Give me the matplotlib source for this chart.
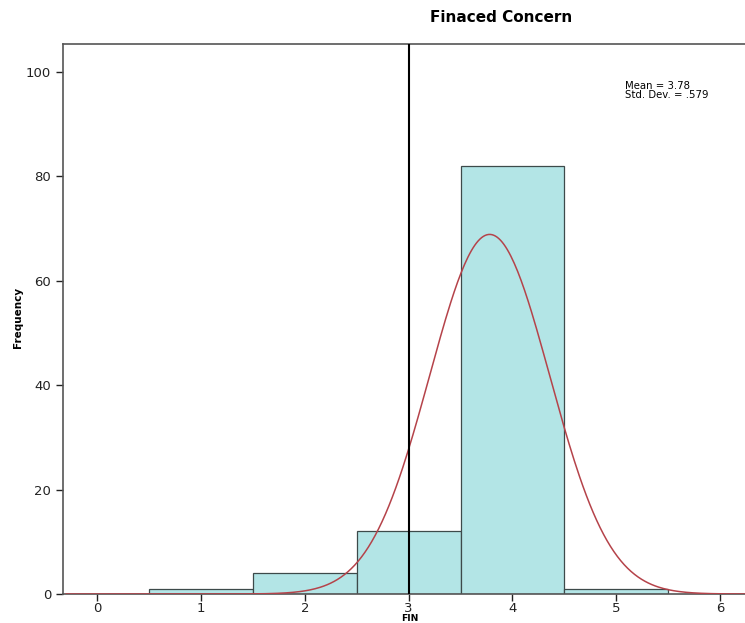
import numpy as np
import matplotlib
matplotlib.use('Agg')
import matplotlib.pyplot as plt

# histogram of FIN (bin centres and frequencies)
bin_centers = [1, 2, 3, 4, 5]
frequencies = [1, 4, 12, 82, 1]
mean_val = 3.78
std_val = 0.579
n_total = sum(frequencies)
x_ticks = [0, 1, 2, 3, 4, 5, 6]
y_ticks = [0, 20, 40, 60, 80, 100]

fig = plt.figure(figsize=(7.45, 6.23), dpi=100)
ax = fig.add_axes([0.0846, 0.0465, 0.9154, 0.883])

ax.bar(bin_centers, frequencies, width=1.0, color='#b3e5e6', edgecolor='#3d4a4a', linewidth=0.9, zorder=2)

# normal curve scaled to counts
xs = np.linspace(-0.3, 6.3, 400)
pdf = n_total / (std_val * np.sqrt(2 * np.pi)) * np.exp(-0.5 * ((xs - mean_val) / std_val) ** 2)
ax.plot(xs, pdf, color='#b5434a', linewidth=1.1, zorder=3)

ax.axvline(3, color='black', linewidth=1.5, zorder=4)

ax.set_xlim(-0.33, 6.24)
ax.set_ylim(0, 105.4)
ax.set_xticks(x_ticks)
ax.set_yticks(y_ticks)
ax.tick_params(direction='out', length=5, width=1, labelsize=9.5, colors='#222222')
ax.tick_params(axis='x', pad=0.5)
for side in ['left', 'bottom', 'top']:
    ax.spines[side].set_color('#555555')
    ax.spines[side].set_linewidth(1.2)
ax.spines['right'].set_visible(False)

fig.text(0.024, 0.49, 'Frequency', rotation=90, fontsize=7.5, fontweight='bold', ha='center', va='center')
fig.text(0.55, 0.0, 'FIN', fontsize=6.6, fontweight='bold', ha='center', va='bottom')

ax.text(5.08, 96.4, 'Mean = 3.78\nStd. Dev. = .579', fontsize=7.3, va='center', ha='left', linespacing=0.9)

fig.text(0.673, 0.972, 'Finaced Concern', ha='center', va='center', fontsize=11, fontweight='bold')

fig.savefig('out.png', dpi=100)
